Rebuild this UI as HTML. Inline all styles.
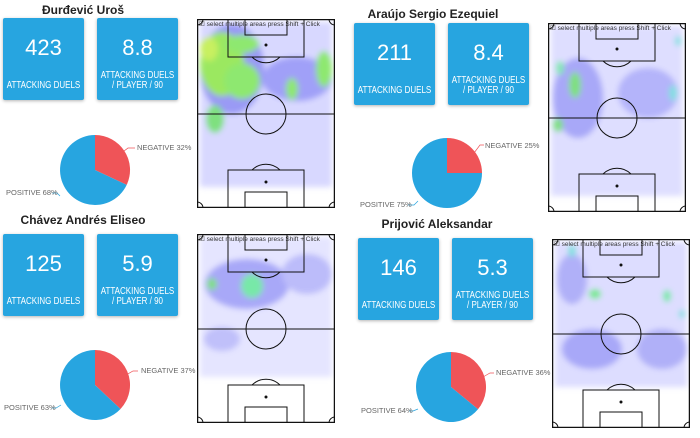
<!DOCTYPE html>
<html><head><meta charset="utf-8"><style>
body{margin:0;width:700px;height:438px;background:#fff;overflow:hidden;position:relative;font-family:"Liberation Sans",sans-serif}
.t{position:absolute;font-weight:bold;font-size:12px;color:#222;text-align:center;width:200px}
.b{position:absolute;width:81px;height:82px;background:#27a5e0;color:#fff;text-align:center;box-shadow:0 1px 3px rgba(0,0,0,.3);border-radius:2px}
.b .n{position:absolute;top:17px;width:100%;font-size:22px}
.b .l{position:absolute;bottom:9px;left:-10px;width:101px;font-size:10px;line-height:10px;white-space:nowrap;transform:scaleX(.8)}
.p{position:absolute}
.lab{font-size:7.5px;fill:#666;font-family:"Liberation Sans",sans-serif}
</style></head><body>
<svg width="0" height="0" style="position:absolute"><defs>
<filter id="bl" x="-20%" y="-20%" width="140%" height="140%"><feGaussianBlur stdDeviation="3"/></filter>
<g id="pitch" fill="none" stroke="#111" stroke-width="1">
<rect x="0.5" y="0.5" width="137" height="188" stroke-width="1.5"/>
<line x1="0" y1="95" x2="138" y2="95"/>
<circle cx="69" cy="95" r="20"/>
<rect x="31" y="0" width="76" height="38"/><rect x="48" y="0" width="42" height="16"/>
<rect x="31" y="151" width="76" height="38"/><rect x="48" y="173" width="42" height="16"/>
<path d="M55 38 A20 20 0 0 0 83 38"/><path d="M55 151 A20 20 0 0 1 83 151"/>
<circle cx="69" cy="26" r="1" fill="#111"/><circle cx="69" cy="163" r="1" fill="#111"/>
<path d="M0 6 A6 6 0 0 0 6 0 M132 0 A6 6 0 0 0 138 6 M0 183 A6 6 0 0 1 6 189 M132 189 A6 6 0 0 1 138 183"/>
</g></defs></svg>

<div class="t" style="left:-17px;top:3px">Đurđević Uroš</div>
<div class="b" style="left:3px;top:18px"><div class="n">423</div><div class="l">ATTACKING DUELS</div></div>
<div class="b" style="left:97px;top:18px"><div class="n">8.8</div><div class="l">ATTACKING DUELS<br>/ PLAYER / 90</div></div>
<svg class="p" style="left:0;top:120px" width="200" height="100"><path d="M95 50 L95 15 A35 35 0 0 1 126.7 64.9 Z" fill="#ef5458"/><path d="M95 50 L126.7 64.9 A35 35 0 1 1 95 15 Z" fill="#27a5e0"/>
<path d="M120 34 L128 28 L135 28" stroke="#ef5458" fill="none" stroke-width=".7"/><text class="lab" x="137" y="30">NEGATIVE 32%</text>
<path d="M60 76 L57 73 L52 73" stroke="#27a5e0" fill="none" stroke-width=".7"/><text class="lab" x="6" y="75">POSITIVE 68%</text></svg>
<svg class="p" style="left:197px;top:19px" width="138" height="189"><g filter="url(#bl)">
<rect x="3" y="3" width="132" height="165" fill="#c8c8ff" opacity=".7"/>
<ellipse cx="35" cy="50" rx="32" ry="45" fill="#9a9af5"/><ellipse cx="100" cy="60" rx="35" ry="22" fill="#a0a0f8"/>
<ellipse cx="25" cy="45" rx="22" ry="32" fill="#9be860"/><ellipse cx="45" cy="62" rx="18" ry="18" fill="#8ee870"/><ellipse cx="18" cy="100" rx="9" ry="14" fill="#7fe07f"/><ellipse cx="45" cy="25" rx="17" ry="9" fill="#8ee870"/>
<ellipse cx="127" cy="50" rx="8" ry="18" fill="#8ee870"/><ellipse cx="95" cy="70" rx="6" ry="11" fill="#8ee870"/><ellipse cx="12" cy="30" rx="9" ry="12" fill="#c8f060"/>
</g><text x="2" y="7" font-size="6.5" fill="#333">☑ select multiple areas press Shift + Click</text><use href="#pitch"/></svg>

<div class="t" style="left:333px;top:7px">Araújo Sergio Ezequiel</div>
<div class="b" style="left:354px;top:23px"><div class="n">211</div><div class="l">ATTACKING DUELS</div></div>
<div class="b" style="left:448px;top:23px"><div class="n">8.4</div><div class="l">ATTACKING DUELS<br>/ PLAYER / 90</div></div>
<svg class="p" style="left:352px;top:123px" width="200" height="100"><path d="M95 50 L95 15 A35 35 0 0 1 130 50 Z" fill="#ef5458"/><path d="M95 50 L130 50 A35 35 0 1 1 95 15 Z" fill="#27a5e0"/>
<path d="M122 30 L128 22 L132 22" stroke="#ef5458" fill="none" stroke-width=".7"/><text class="lab" x="133" y="25">NEGATIVE 25%</text>
<path d="M66 78 L62 82 L56 82" stroke="#27a5e0" fill="none" stroke-width=".7"/><text class="lab" x="8" y="84">POSITIVE 75%</text></svg>
<svg class="p" style="left:548px;top:23px" width="138" height="189"><g filter="url(#bl)">
<rect x="3" y="3" width="132" height="170" fill="#d0d0ff" opacity=".7"/>
<ellipse cx="30" cy="75" rx="25" ry="40" fill="#a8a8f8"/><ellipse cx="100" cy="70" rx="30" ry="25" fill="#b4b4fa"/>
<ellipse cx="27" cy="62" rx="6" ry="13" fill="#7fe07f"/><ellipse cx="10" cy="102" rx="5" ry="7" fill="#7fe07f"/><ellipse cx="12" cy="45" rx="4" ry="7" fill="#80e8b0"/><ellipse cx="125" cy="70" rx="4" ry="8" fill="#80e0e0"/><ellipse cx="130" cy="18" rx="3" ry="5" fill="#80e0e0"/>
</g><text x="2" y="7" font-size="6.5" fill="#333">☑ select multiple areas press Shift + Click</text><use href="#pitch"/></svg>

<div class="t" style="left:-17px;top:213px">Chávez Andrés Eliseo</div>
<div class="b" style="left:3px;top:234px"><div class="n">125</div><div class="l">ATTACKING DUELS</div></div>
<div class="b" style="left:97px;top:234px"><div class="n">5.9</div><div class="l">ATTACKING DUELS<br>/ PLAYER / 90</div></div>
<svg class="p" style="left:0;top:335px" width="200" height="100"><path d="M95 50 L95 15 A35 35 0 0 1 120.5 74 Z" fill="#ef5458"/><path d="M95 50 L120.5 74 A35 35 0 1 1 95 15 Z" fill="#27a5e0"/>
<path d="M126 40 L133 36 L138 36" stroke="#ef5458" fill="none" stroke-width=".7"/><text class="lab" x="141" y="38">NEGATIVE 37%</text>
<path d="M61 70 L56 73 L52 73" stroke="#27a5e0" fill="none" stroke-width=".7"/><text class="lab" x="4" y="75">POSITIVE 63%</text></svg>
<svg class="p" style="left:197px;top:234px" width="138" height="189"><g filter="url(#bl)">
<rect x="3" y="3" width="132" height="140" fill="#dadaff" opacity=".7"/>
<ellipse cx="50" cy="50" rx="42" ry="25" fill="#a8a8f8"/><ellipse cx="110" cy="40" rx="25" ry="20" fill="#bcbcfa"/><ellipse cx="25" cy="105" rx="18" ry="12" fill="#c0c0fa"/>
<ellipse cx="55" cy="52" rx="11" ry="12" fill="#78e8a8"/><ellipse cx="15" cy="50" rx="5" ry="6" fill="#7fe07f"/>
</g><text x="2" y="7" font-size="6.5" fill="#333">☑ select multiple areas press Shift + Click</text><use href="#pitch"/></svg>

<div class="t" style="left:337px;top:217px">Prijović Aleksandar</div>
<div class="b" style="left:358px;top:238px"><div class="n">146</div><div class="l">ATTACKING DUELS</div></div>
<div class="b" style="left:452px;top:238px"><div class="n">5.3</div><div class="l">ATTACKING DUELS<br>/ PLAYER / 90</div></div>
<svg class="p" style="left:356px;top:337px" width="200" height="100"><path d="M95 50 L95 15 A35 35 0 0 1 122 72.3 Z" fill="#ef5458"/><path d="M95 50 L122 72.3 A35 35 0 1 1 95 15 Z" fill="#27a5e0"/>
<path d="M127 40 L134 36 L138 36" stroke="#ef5458" fill="none" stroke-width=".7"/><text class="lab" x="140" y="38">NEGATIVE 36%</text>
<path d="M62 72 L57 74 L53 74" stroke="#27a5e0" fill="none" stroke-width=".7"/><text class="lab" x="5" y="76">POSITIVE 64%</text></svg>
<svg class="p" style="left:552px;top:239px" width="138" height="189"><g filter="url(#bl)">
<rect x="3" y="3" width="132" height="145" fill="#cfcfff" opacity=".7"/>
<ellipse cx="40" cy="110" rx="30" ry="20" fill="#a8a8f8"/><ellipse cx="110" cy="110" rx="25" ry="20" fill="#b0b0f8"/><ellipse cx="20" cy="40" rx="15" ry="25" fill="#b0b0f8"/>
<ellipse cx="43" cy="55" rx="6" ry="5" fill="#78e890"/><ellipse cx="115" cy="57" rx="4" ry="6" fill="#78e8a8"/><ellipse cx="20" cy="12" rx="4" ry="6" fill="#80e0e0"/><ellipse cx="130" cy="75" rx="3" ry="4" fill="#80e0e0"/>
</g><text x="2" y="7" font-size="6.5" fill="#333">☑ select multiple areas press Shift + Click</text><use href="#pitch"/></svg>
</body></html>
